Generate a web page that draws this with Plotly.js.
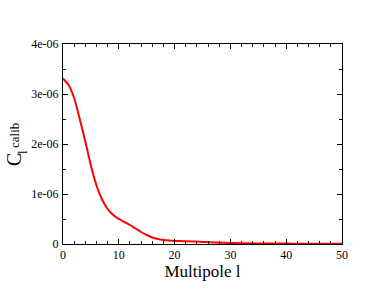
<!DOCTYPE html>
<html>
<head>
<meta charset="utf-8">
<script src="https://cdn.plot.ly/plotly-3.0.1.min.js"></script>
<style>html,body{margin:0;padding:0;background:#fff;}#chart{width:374px;height:289px;}</style>
</head>
<body>
<div id="chart"></div>
<script>
// Multipole l
var multipole = [0,1,2,3,4,5,6,7,8,9,10,11,12,13,14,15,16,17,18,19,20,21,22,23,24,25,26,27,28,29,30,31,32,33,34,35,36,37,38,39,40,41,42,43,44,45,46,47,48,49,50];
// C_l^calib (units of 1e-6)
var clCalibE6 = [3.31,3.18,2.92,2.50,2.05,1.57,1.17,0.89,0.70,0.58,0.50,0.44,0.38,0.31,0.24,0.18,0.13,0.10,0.082,0.070,0.062,0.058,0.055,0.052,0.048,0.042,0.036,0.031,0.027,0.023,0.020,0.018,0.016,0.014,0.013,0.012,0.011,0.010,0.009,0.0085,0.008,0.0075,0.007,0.0065,0.006,0.0055,0.005,0.0045,0.004,0.0035,0.003];
var yTickVals = [0,1e-6,2e-6,3e-6,4e-6];
var yTickText = ["0","1e-06","2e-06","3e-06","4e-06"];
var xTickVals = [0,10,20,30,40,50];
var xTickText = ["0","10","20","30","40","50"];

var clCalib = clCalibE6.map(function(v){return v*1e-6;});

var fontFam = "'Liberation Serif', 'DejaVu Serif', serif";
var trace = {
  x: multipole, y: clCalib, type: 'scatter', mode: 'lines',
  line: {color: '#ff0000', width: 2, shape: 'spline', smoothing: 0.6},
  hoverinfo: 'skip'
};
var axisCommon = {
  showgrid: false, zeroline: false, showline: true, linecolor: '#000', linewidth: 1,
  mirror: 'allticks', ticks: 'inside', ticklen: 5, tickwidth: 1, tickcolor: '#000',
  tickfont: {family: fontFam, size: 12, color: '#000'}
};
var layout = {
  width: 374, height: 289,
  margin: {l: 63, r: 32, t: 44, b: 45, pad: 0},
  paper_bgcolor: '#fff', plot_bgcolor: '#fff',
  showlegend: false,
  font: {family: fontFam, color: '#000'},
  xaxis: Object.assign({}, axisCommon, {
    range: [0, 50], tickmode: 'array', tickvals: xTickVals, ticktext: xTickText,
    minor: {ticks: 'inside', dtick: 2, ticklen: 3, tickcolor: '#000', tickwidth: 1},
    title: {text: 'Multipole l', font: {family: fontFam, size: 17, color: '#000'}, standoff: 2}
  }),
  yaxis: Object.assign({}, axisCommon, {
    range: [0, 4e-6], tickmode: 'array', tickvals: yTickVals, ticktext: yTickText,
    ticklabelstandoff: 1,
    minor: {ticks: 'inside', dtick: 0.5e-6, tick0: 0, ticklen: 3, tickcolor: '#000', tickwidth: 1}
  }),
  annotations: [
    {text: 'C', xref: 'paper', yref: 'paper', x: 0, y: 0.42, xshift: -49, textangle: -90,
     showarrow: false, xanchor: 'center', yanchor: 'middle', font: {family: fontFam, size: 20, color: '#000'}},
    {text: 'l', xref: 'paper', yref: 'paper', x: 0, y: 0.46, xshift: -41, textangle: -90,
     showarrow: false, xanchor: 'center', yanchor: 'middle', font: {family: fontFam, size: 13, color: '#000'}},
    {text: 'calib', xref: 'paper', yref: 'paper', x: 0, y: 0.54, xshift: -49, textangle: -90,
     showarrow: false, xanchor: 'center', yanchor: 'middle', font: {family: fontFam, size: 13, color: '#000'}}
  ]
};
Plotly.newPlot('chart', [trace], layout, {staticPlot: true, displayModeBar: false});
</script>
</body>
</html>
